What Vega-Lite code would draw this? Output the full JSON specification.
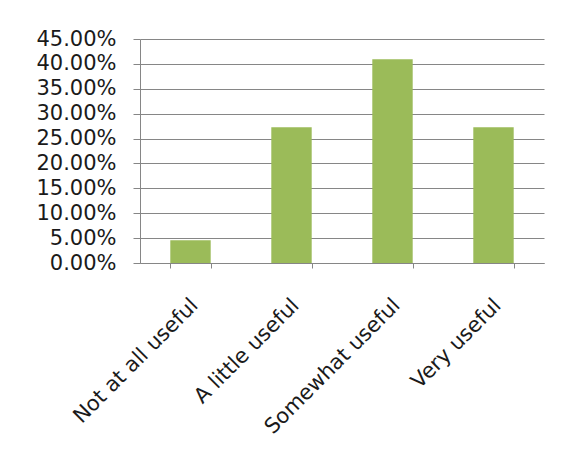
{
  "$schema": "https://vega.github.io/schema/vega-lite/v6.json",
  "autosize": "none",
  "width": 404,
  "height": 224,
  "padding": {"left": 140, "top": 39, "right": 24, "bottom": 202},
  "background": "white",
  "config": {
    "view": {"stroke": null},
    "font": "DejaVu Sans"
  },
  "data": {
    "values": [
      {"category": "Not at all useful", "share": 0.0455},
      {"category": "A little useful", "share": 0.2727},
      {"category": "Somewhat useful", "share": 0.4091},
      {"category": "Very useful", "share": 0.2727}
    ]
  },
  "mark": {"type": "bar", "color": "#9BBB59"},
  "encoding": {
    "x": {
      "field": "category",
      "type": "nominal",
      "sort": null,
      "title": null,
      "scale": {"paddingInner": 0.6, "paddingOuter": 0.3},
      "axis": {
        "tickBand": "extent",
        "labelAngle": -45,
        "labelAlign": "right",
        "labelBaseline": "middle",
        "labelFont": "DejaVu Sans",
        "labelFontSize": 21,
        "labelColor": "#1a1a1a",
        "labelLimit": 400,
        "labelPadding": 34,
        "labelOffset": 4,
        "tickSize": 5,
        "tickColor": "#868686",
        "domainColor": "#868686",
        "grid": false
      }
    },
    "y": {
      "field": "share",
      "type": "quantitative",
      "title": null,
      "scale": {"domain": [0, 0.45], "nice": false},
      "axis": {
        "values": [0, 0.05, 0.1, 0.15, 0.2, 0.25, 0.3, 0.35, 0.4, 0.45],
        "format": ".2%",
        "labelFont": "DejaVu Sans",
        "labelFontSize": 21,
        "labelColor": "#1a1a1a",
        "labelPadding": 17,
        "tickSize": 7,
        "tickColor": "#868686",
        "domainColor": "#868686",
        "gridColor": "#868686",
        "gridWidth": 1.2,
        "labelBaseline": "middle"
      }
    }
  }
}
